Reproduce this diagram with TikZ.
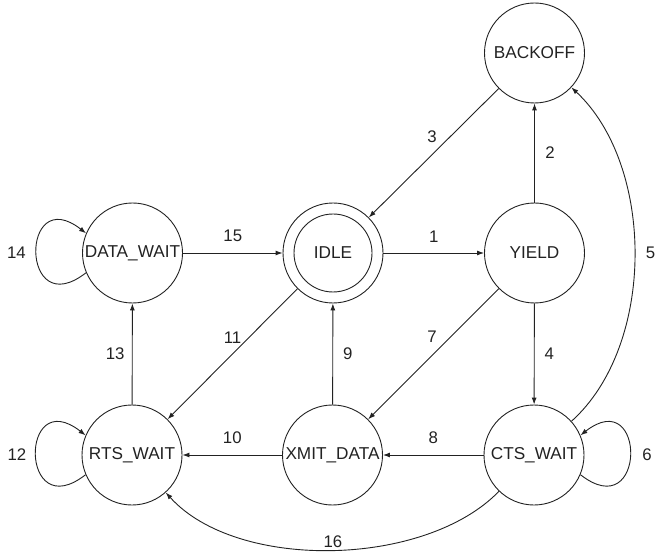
\documentclass[tikz,border=0pt]{standalone}
\usepackage{fontspec}
\setmainfont{Liberation Sans}
\usetikzlibrary{arrows.meta}
\definecolor{ink}{HTML}{222222}
\begin{document}
\begin{tikzpicture}[x=1pt,y=1pt,
  state/.style={draw=ink, text=ink, circle, minimum size=100pt, inner sep=0pt, line width=0.9pt, font=\fontsize{17.2}{18}\selectfont},
  tr/.style={draw=ink, line width=0.9pt, -{Latex[length=7pt,width=5pt]}},
  lbl/.style={text=ink, font=\fontsize{16.8}{18}\selectfont, inner sep=0pt}]
\useasboundingbox (0,0) rectangle (655,552);
\node[state] (backoff) at (534.5,499) {BACKOFF};
\node[state] (yield) at (534.5,299) {YIELD};
\node[state] (idle) at (333,299) {IDLE};
\draw[draw=ink, line width=0.9pt] (idle.center) circle[radius=39pt];
\node[state] (datawait) at (132.5,299) {DATA\_WAIT};
\node[state] (rtswait) at (132,97) {RTS\_WAIT};
\node[state] (xmit) at (332.5,97) {XMIT\_DATA};
\node[state] (cts) at (534,97) {CTS\_WAIT};

\draw[tr] (idle) -- node[lbl, yshift=16pt] {1} (yield);
\draw[tr] (yield) -- node[lbl, xshift=15.5pt] {2} (backoff);
\draw[tr] (backoff) -- node[lbl, xshift=-1.7pt, yshift=16pt] {3} (idle);
\draw[tr] (yield) -- node[lbl, xshift=15pt] {4} (cts);
\draw[tr] (cts.42) .. controls +(42:114pt) and +(317:114pt) .. node[lbl, xshift=16pt, yshift=2pt] {5} (backoff.317);
\draw[tr] (cts.337) .. controls +(322:84pt) and +(38:84pt) .. node[lbl, xshift=17pt] {6} (cts.23);
\draw[tr] (yield) -- node[lbl, xshift=-1.5pt, yshift=17pt] {7} (xmit);
\draw[tr] (cts) -- node[lbl, yshift=17pt] {8} (xmit);
\draw[tr] (xmit) -- node[lbl, xshift=15pt] {9} (idle);
\draw[tr] (xmit) -- node[lbl, yshift=17pt] {10} (rtswait);
\draw[tr] (idle) -- node[lbl, yshift=16pt] {11} (rtswait);
\draw[tr] (rtswait.203) .. controls +(218:84pt) and +(142:84pt) .. node[lbl, xshift=-19pt] {12} (rtswait.157);
\draw[tr] (rtswait) -- node[lbl, xshift=-17pt] {13} (datawait);
\draw[tr] (datawait.203) .. controls +(218:84pt) and +(142:84pt) .. node[lbl, xshift=-20pt] {14} (datawait.157);
\draw[tr] (datawait) -- node[lbl, yshift=17pt] {15} (idle);
\draw[tr] (cts.226) .. controls +(226:106pt) and +(312:106pt) .. node[lbl, xshift=1.5pt, yshift=8pt] {16} (rtswait.312);
\end{tikzpicture}
\end{document}
